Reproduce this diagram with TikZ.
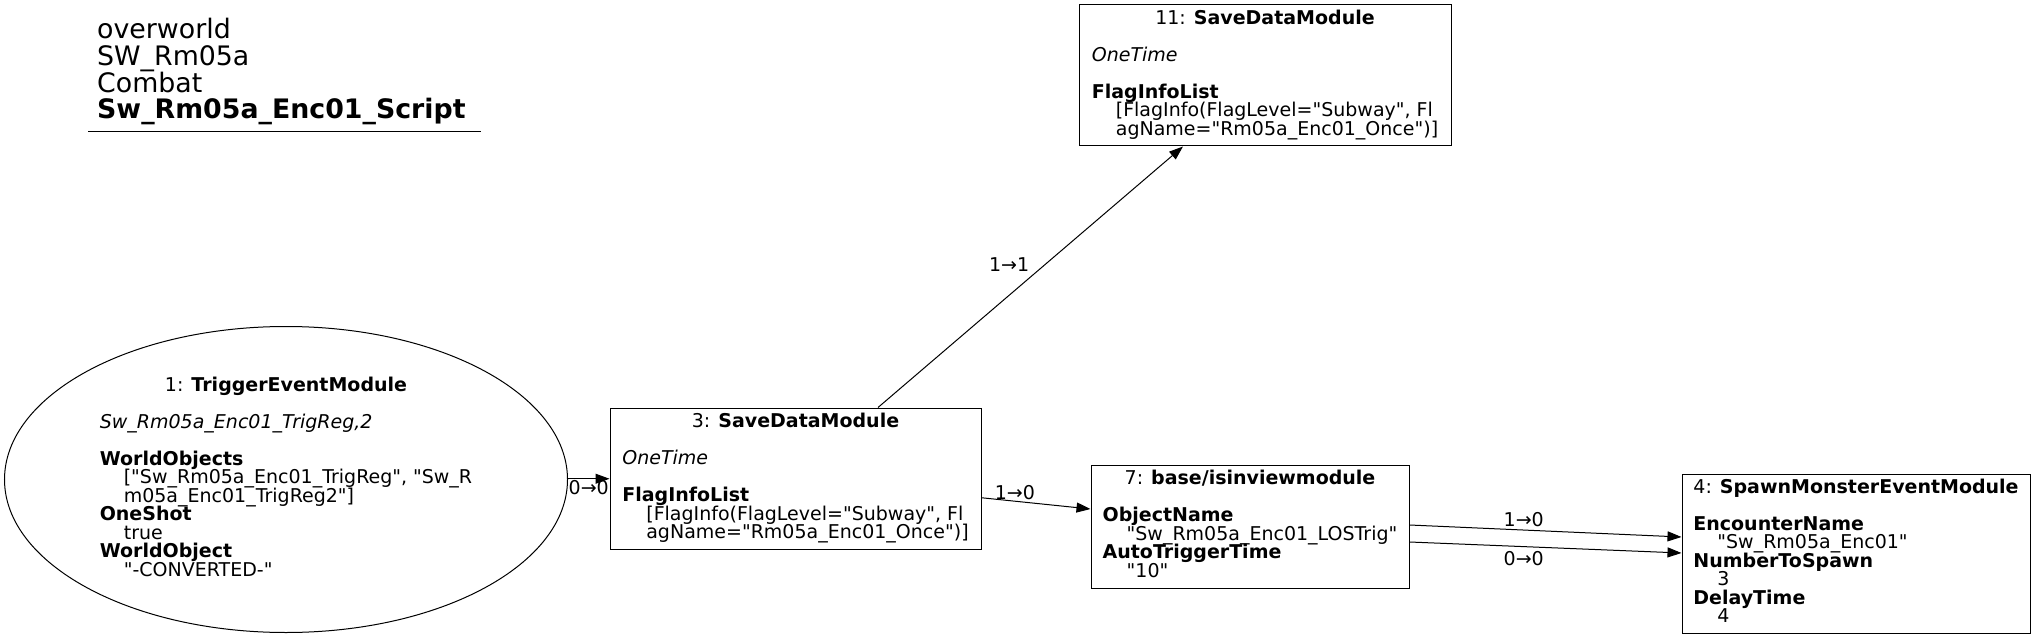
\documentclass[tikz,border=0pt]{standalone}
\usepackage{fontspec}
\setmainfont{DejaVu Sans}[Ligatures=TeXOff]
\usetikzlibrary{arrows.meta,shapes.geometric}
\def\gvstrut{\vrule width0pt height13pt depth5.5pt}
\newcommand{\gvtext}[1]{\vbox{\fontsize{19}{18.5}\selectfont\baselineskip=18.5pt\lineskiplimit=-100pt\lineskip=0pt\halign{\gvstrut##\hfil\cr#1\crcr}}}
\newcommand{\gvtitle}[1]{\omit\gvstrut\hfil#1\hfil}
\newcommand{\ind}{\hskip24pt}
\tikzset{
  gvbox/.style={draw=black, line width=1pt, rectangle, inner sep=0pt},
  gvell/.style={draw=black, line width=1pt, ellipse, inner sep=0pt},
  gvedge/.style={draw=black, line width=1pt, -{Triangle[length=14pt,width=10pt]}},
  elabel/.style={inner sep=0pt, font=\fontsize{19}{18.5}\selectfont},
}
\begin{document}
\begin{tikzpicture}[x=1pt,y=-1pt]
\useasboundingbox (0,0) rectangle (2037,639);

% title
\node[anchor=base west, inner sep=0pt] (title) at (97,119) {\vbox{\fontsize{26.8}{26.7}\selectfont\baselineskip=26.7pt\lineskiplimit=-100pt\lineskip=0pt
\hbox{overworld}\hbox{SW\_Rm05a}\hbox{Combat}\hbox{\textbf{Sw\_Rm05a\_Enc01\_Script}}}};
\coordinate (ulA) at (88,132);
\coordinate (ulB) at (481,132);
\draw[line width=1pt] (ulA) -- (ulB);

% node 1
\node[gvell, minimum width=563pt, minimum height=306pt] (n1) at (286,479.5) {\gvtext{%
\gvtitle{1: \textbf{TriggerEventModule}}\cr
\cr
\textit{Sw\_Rm05a\_Enc01\_TrigReg,2}\cr
\cr
\textbf{WorldObjects}\cr
\ind["Sw\_Rm05a\_Enc01\_TrigReg", "Sw\_R\cr
\ind m05a\_Enc01\_TrigReg2"]\cr
\textbf{OneShot}\cr
\ind true\cr
\textbf{WorldObject}\cr
\ind"-CONVERTED-"}};

% node 3
\node[gvbox, minimum width=371pt, minimum height=141.5pt] (n3) at (795.5,478.75) {\gvtext{%
\gvtitle{3: \textbf{SaveDataModule}}\cr
\cr
\textit{OneTime}\cr
\cr
\textbf{FlagInfoList}\cr
\ind[FlagInfo(FlagLevel="Subway", Fl\cr
\ind agName="Rm05a\_Enc01\_Once")]}};

% node 11
\node[gvbox, minimum width=372pt, minimum height=141pt] (n11) at (1265,75.5) {\gvtext{%
\gvtitle{11: \textbf{SaveDataModule}}\cr
\cr
\textit{OneTime}\cr
\cr
\textbf{FlagInfoList}\cr
\ind[FlagInfo(FlagLevel="Subway", Fl\cr
\ind agName="Rm05a\_Enc01\_Once")]}};

% node 7
\node[gvbox, minimum width=318pt, minimum height=123pt] (n7) at (1250,526.5) {\gvtext{%
\gvtitle{7: \textbf{base/isinviewmodule}}\cr
\cr
\textbf{ObjectName}\cr
\ind"Sw\_Rm05a\_Enc01\_LOSTrig"\cr
\textbf{AutoTriggerTime}\cr
\ind"10"}};

% node 4
\node[gvbox, minimum width=348pt, minimum height=159pt] (n4) at (1856,553.5) {\gvtext{%
\gvtitle{4: \textbf{SpawnMonsterEventModule}}\cr
\cr
\textbf{EncounterName}\cr
\ind"Sw\_Rm05a\_Enc01"\cr
\textbf{NumberToSpawn}\cr
\ind 3\cr
\textbf{DelayTime}\cr
\ind 4}};

% edges
\draw[gvedge] ([yshift=0.75pt]n1.east) -- (n3.west)
  node[elabel, pos=0.5, yshift=-9pt] (l13) {0→0};
\draw[gvedge] ([xshift=82.5pt]n3.north) -- ([xshift=-82pt]n11.south)
  node[elabel, pos=0.548, xshift=-36pt] (l311) {1→1};
\draw[gvedge] ([yshift=-19pt]n3.east) -- ([yshift=17.5pt]n7.west)
  node[elabel, pos=0.306, yshift=8.5pt] (l37) {1→0};
\draw[gvedge] ([yshift=1.5pt]n7.east) -- ([yshift=16.5pt]n4.west)
  node[elabel, pos=0.42, yshift=10pt] (l74a) {1→0};
\draw[gvedge] ([yshift=-15.5pt]n7.east) -- ([yshift=0.5pt]n4.west)
  node[elabel, pos=0.42, yshift=-11.5pt] (l74b) {0→0};
\end{tikzpicture}
\end{document}
